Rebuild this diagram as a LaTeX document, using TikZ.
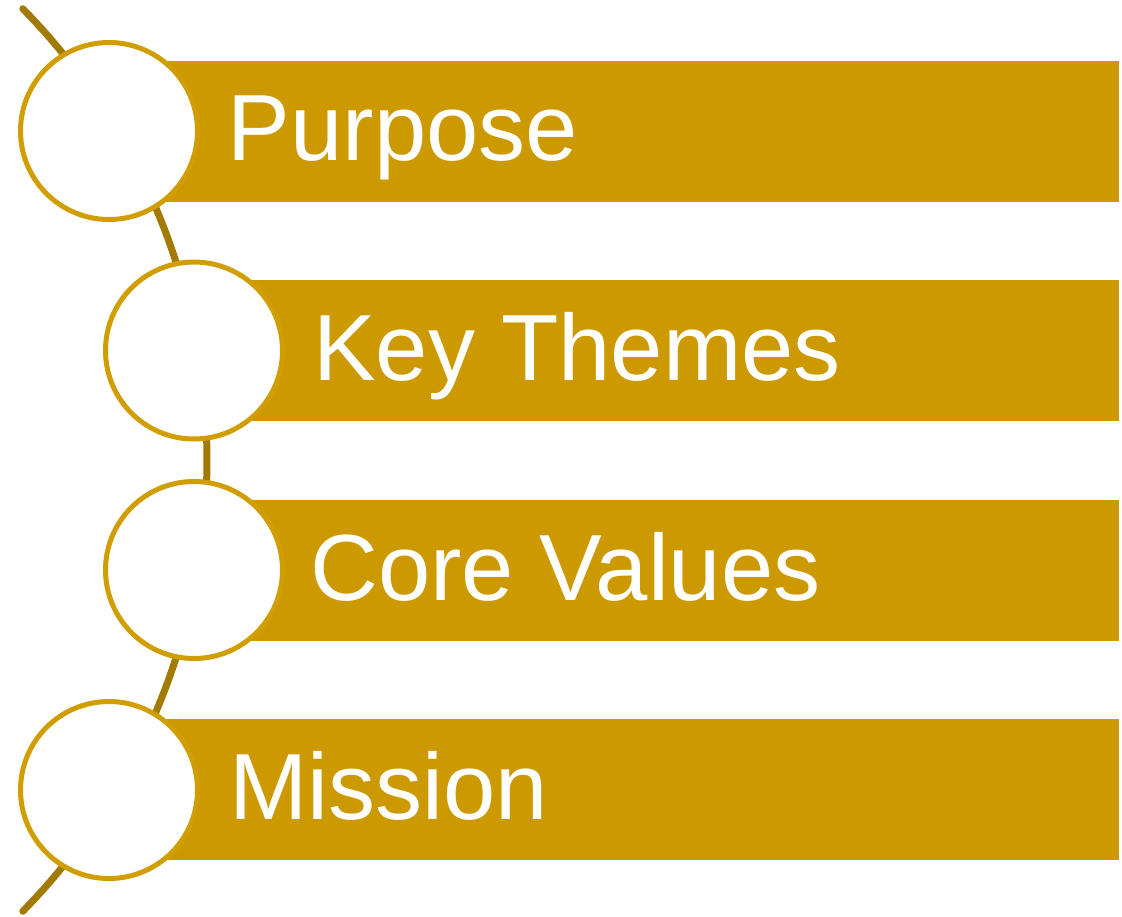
\documentclass[tikz,border=0pt]{standalone}
\usepackage{fontspec}
\setmainfont{Liberation Sans}
\definecolor{barcol}{HTML}{CC9900}
\definecolor{ringcol}{HTML}{D09E00}
\definecolor{spinecol}{HTML}{A37A00}
\begin{document}
\begin{tikzpicture}[x=1pt,y=1pt,
  barbox/.style={fill=barcol,draw=none,minimum width=#1,minimum height=141pt,inner sep=0pt,anchor=west},
  ring/.style={circle,fill=white,draw=ringcol,line width=5pt,minimum size=177pt,inner sep=0pt},
  label/.style={anchor=base west,inner sep=0pt,text=white,font=\fontsize{94}{94}\selectfont},
  spine/.style={draw=spinecol,line width=7pt,line cap=round}]
\useasboundingbox (0,0) rectangle (1122,-916);
% backbone arc
\coordinate (arcC) at (-438,-460);
\draw[spine] (arcC) ++(44.4:645) arc[start angle=44.4, end angle=-44.4, radius=645pt];
% bars
\node[barbox=1010pt] (b1) at (109,-131.5) {};
\node[barbox=925pt] (b2) at (194,-350.5) {};
\node[barbox=925pt] (b3) at (194,-570) {};
\node[barbox=1010pt] (b4) at (109,-789.5) {};
% circles
\node[ring] (c1) at (109,-131) {};
\node[ring] (c2) at (194,-350.5) {};
\node[ring] (c3) at (194,-570) {};
\node[ring] (c4) at (109,-790) {};
% texts
\node[label] (t1) at (227.6,-160) {Purpose};
\node[label] (t2) at (313,-380) {Key Themes};
\node[label] (t3) at (310,-600) {Core Values};
\node[label] (t4) at (229,-819) {Mission};
\end{tikzpicture}
\end{document}
